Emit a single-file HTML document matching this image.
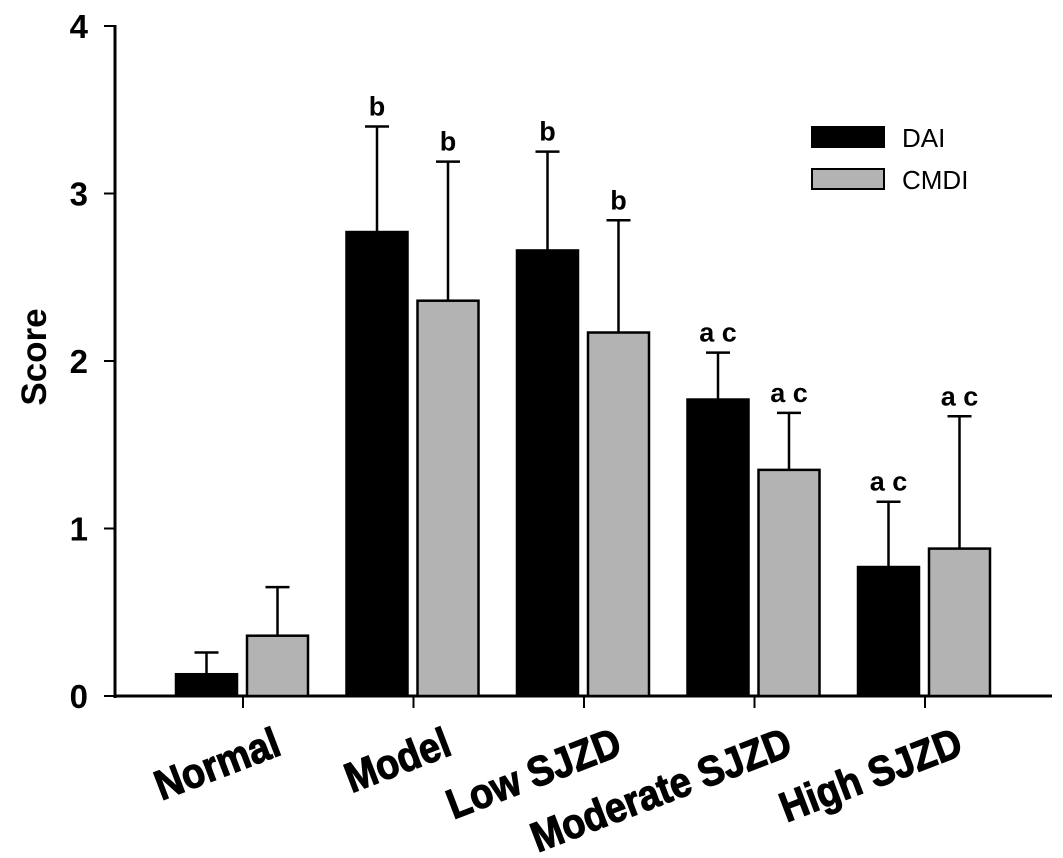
<!DOCTYPE html>
<html><head><meta charset="utf-8"><style>
body{margin:0;background:#fff}
svg text{font-family:"Liberation Sans",Arial,sans-serif}
</style></head><body>
<svg width="1063" height="853" viewBox="0 0 1063 853" xmlns="http://www.w3.org/2000/svg">
<g id="root"></g>
</svg>
<script>
const categories = ["Normal","Model","Low SJZD","Moderate SJZD","High SJZD"];
const daiValues = [0.13,2.77,2.66,1.77,0.77];
const daiErrors = [0.13,0.63,0.59,0.28,0.39];
const cmdiValues = [0.36,2.36,2.17,1.35,0.88];
const cmdiErrors = [0.29,0.83,0.67,0.34,0.79];
const daiLabels = ["","b","b","a c","a c"];
const cmdiLabels = ["","b","b","a c","a c"];
const yTicks = [0,1,2,3,4];

const NS="http://www.w3.org/2000/svg";
const root=document.getElementById('root');
const y0=696, yTop=26, yMax=4;
const y=v=>y0-(y0-yTop)*v/yMax;
const catX=i=>243+i*170.5;
function mk(tag,attrs,parent){const e=document.createElementNS(NS,tag);for(const k in attrs)e.setAttribute(k,attrs[k]);(parent||root).appendChild(e);return e;}

const ya=mk('line',{x1:115,y1:y(4)-1,x2:115,y2:y0+2,stroke:'#000','stroke-width':3});


const xa=mk('line',{x1:114,y1:y0,x2:1052,y2:y0,stroke:'#000','stroke-width':3});



yTicks.forEach(t=>{
  const tk=mk('line',{x1:104,y1:y(t),x2:115,y2:y(t),stroke:'#000','stroke-width':2});
  
  
  const tl=mk('text',{x:88,y:y(t)+12,'text-anchor':'end','font-size':33,'font-weight':'bold'});
  tl.textContent=t;
  
  
});

const yt=mk('text',{x:0,y:0,transform:'translate(46,357) rotate(-90)','text-anchor':'middle','font-size':35,'font-weight':'bold'});
yt.textContent='Score';



const bw=61;
function bar(x,v,e,fill,lab,name){
  const top=y(v), et=y(v+e), cx=x+bw/2;
  const eb=mk('line',{x1:cx,y1:top,x2:cx,y2:et,stroke:'#000','stroke-width':2.5});
  
  
  const ec=mk('line',{x1:cx-12,y1:et,x2:cx+12,y2:et,stroke:'#000','stroke-width':2.5});
  
  
  const r=mk('rect',{x:x,y:top,width:bw,height:y0-top,fill:fill,stroke:'#000','stroke-width':2.5});
  
  
  if(lab){
    const t=mk('text',{x:cx,y:et-11,'text-anchor':'middle','font-size':27,'font-weight':'bold'});
    t.textContent=lab;
    
    
  }
}
categories.forEach((c,i)=>{
  const cx=catX(i);
  bar(cx-67,daiValues[i],daiErrors[i],'#000',daiLabels[i],'dai');
  bar(cx+4,cmdiValues[i],cmdiErrors[i],'#b3b3b3',cmdiLabels[i],'cmdi');
  const tk=mk('line',{x1:cx,y1:y0,x2:cx,y2:y0+12,stroke:'#000','stroke-width':2});
  
  
  const t=mk('text',{x:0,y:0,transform:`translate(${cx+40},${y0+58}) rotate(-21) scale(0.9,1)`,'text-anchor':'end','font-size':42,'font-weight':'bold',stroke:'#000','stroke-width':1.2});
  t.textContent=c;
  
  
});

const lg=mk('g',{});


[['DAI','#000',127],['CMDI','#b3b3b3',169]].forEach(([n,f,yy])=>{
  const r=mk('rect',{x:812,y:yy,width:72,height:20,fill:f,stroke:'#000','stroke-width':2},lg);
  
  
  const t=mk('text',{x:902,y:yy+20,'font-size':26},lg);
  t.textContent=n;
  
  
});
</script>
</body></html>
